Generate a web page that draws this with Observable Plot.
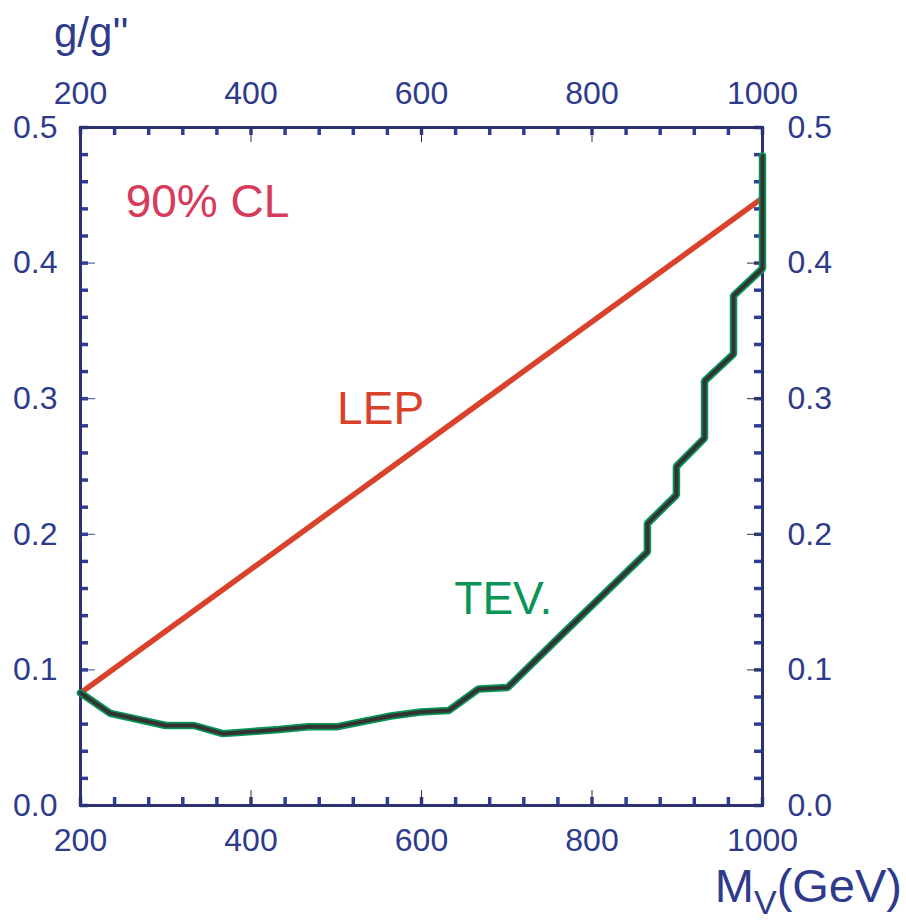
<!DOCTYPE html>
<html>
<head>
<meta charset="utf-8">
<script src="https://cdn.jsdelivr.net/npm/d3@7"></script>
<script src="https://cdn.jsdelivr.net/npm/@observablehq/plot@0.6"></script>
<style>
  html, body { margin: 0; padding: 0; background: #fff; }
  #chart svg { display: block; }
</style>
</head>
<body>
<div id="chart"></div>
<script>
// Limits on the coupling g/g'' versus vector-resonance mass M_V (90% CL)
const lepMass = [200, 1000];
const lepCoupling = [0.083, 0.448];

const tevMass = [200, 235, 300, 333, 367, 433, 467, 500, 564, 599, 632, 667, 701, 763, 865, 865, 899, 899, 932, 932, 966, 966, 1000, 1000];
const tevCoupling = [0.083, 0.068, 0.059, 0.059, 0.053, 0.056, 0.058, 0.058, 0.066, 0.069, 0.070, 0.086, 0.087, 0.125, 0.187, 0.208, 0.229, 0.250, 0.271, 0.313, 0.333, 0.376, 0.396, 0.479];

// Tick positions and labels
const majorX = [200, 400, 600, 800, 1000];
const minorX = d3.range(200, 1001, 40);
const majorY = [0, 0.1, 0.2, 0.3, 0.4, 0.5];
const minorY = d3.range(0, 0.5001, 0.02);

const lep = lepMass.map((m, i) => ({m, g: lepCoupling[i]}));
const tev = tevMass.map((m, i) => ({m, g: tevCoupling[i]}));

const W = 906, H = 922;
const mt = 127, mb = 117, ml = 80, mr = 144;
const innerW = W - ml - mr, innerH = H - mt - mb;

const navy = "#2e3a8c";
const frameNavy = "#2b3272";
const tickNavy = "#2f3c96";
const font = "'Liberation Sans', Arial, Helvetica, sans-serif";
const tickLen = 8, majorLen = 15;

const svg = Plot.plot({
  width: W,
  height: H,
  marginTop: mt,
  marginBottom: mb,
  marginLeft: ml,
  marginRight: mr,
  style: {fontFamily: font, background: "#fff", overflow: "visible"},
  x: {domain: [200, 1000], axis: null},
  y: {domain: [0, 0.5], axis: null},
  marks: [
    // minor ticks, pointing inward on all four sides
    Plot.tickX(minorX, {x: d => d, insetTop: innerH - tickLen, stroke: tickNavy, strokeWidth: 3.5}),
    Plot.tickX(minorX, {x: d => d, insetBottom: innerH - tickLen, stroke: tickNavy, strokeWidth: 3.5}),
    Plot.tickY(minorY, {y: d => d, insetRight: innerW - tickLen, stroke: tickNavy, strokeWidth: 3.5}),
    Plot.tickY(minorY, {y: d => d, insetLeft: innerW - tickLen, stroke: tickNavy, strokeWidth: 3.5}),
    // thin major ticks
    Plot.tickX(majorX, {x: d => d, insetTop: innerH - majorLen, stroke: "#333", strokeWidth: 1}),
    Plot.tickX(majorX, {x: d => d, insetBottom: innerH - majorLen, stroke: "#333", strokeWidth: 1}),
    Plot.tickY(majorY, {y: d => d, insetRight: innerW - majorLen, stroke: "#3a48a0", strokeWidth: 1}),
    Plot.tickY(majorY, {y: d => d, insetLeft: innerW - majorLen, stroke: "#333", strokeWidth: 1}),
    Plot.frame({stroke: frameNavy, strokeWidth: 3}),
    // tick labels
    Plot.text(majorX, {x: d => d, frameAnchor: "top", dy: -34, text: d => String(d), lineAnchor: "middle", fontSize: 32, fill: navy}),
    Plot.text(majorX, {x: d => d, frameAnchor: "bottom", dy: 35, text: d => String(d), lineAnchor: "middle", fontSize: 32, fill: navy}),
    Plot.text(majorY, {y: d => d, frameAnchor: "left", dx: -23, text: d => d.toFixed(1), textAnchor: "end", lineAnchor: "middle", fontSize: 32, fill: navy}),
    Plot.text(majorY, {y: d => d, frameAnchor: "right", dx: 25, text: d => d.toFixed(1), textAnchor: "start", lineAnchor: "middle", fontSize: 32, fill: navy}),
    // LEP limit
    Plot.line(lep, {x: "m", y: "g", stroke: "#d9412b", strokeWidth: 5.5}),
    // Tevatron limit: green outline under a dark core
    Plot.line(tev, {x: "m", y: "g", stroke: "#0a9457", strokeWidth: 7.5, strokeLinejoin: "miter"}),
    Plot.line(tev, {x: "m", y: "g", stroke: "#333", strokeWidth: 4, strokeLinejoin: "miter"}),
    // annotations
    Plot.text(["90% CL"], {x: 349, y: 0.445, text: d => d, fill: "#d83a5a", fontSize: 46, lineAnchor: "middle"}),
    Plot.text(["LEP"], {x: 552, y: 0.292, text: d => d, fill: "#d9412b", fontSize: 46, lineAnchor: "middle"}),
    Plot.text(["TEV."], {x: 696, y: 0.152, text: d => d, fill: "#0a9457", fontSize: 46, lineAnchor: "middle"})
  ]
});

// axis titles
const s = d3.select(svg);
s.append("text")
  .attr("x", 54).attr("y", 47)
  .attr("text-anchor", "start")
  .attr("fill", navy).attr("font-size", 42).attr("font-family", font)
  .text("g/g''");
const t = s.append("text")
  .attr("x", 902).attr("y", 902)
  .attr("text-anchor", "end")
  .attr("fill", navy).attr("font-size", 47).attr("font-family", font);
t.append("tspan").text("M");
t.append("tspan").attr("dy", 12).attr("font-size", 34).text("V");
t.append("tspan").attr("dy", -12).text("(GeV)");

document.getElementById("chart").appendChild(svg);
</script>
</body>
</html>
